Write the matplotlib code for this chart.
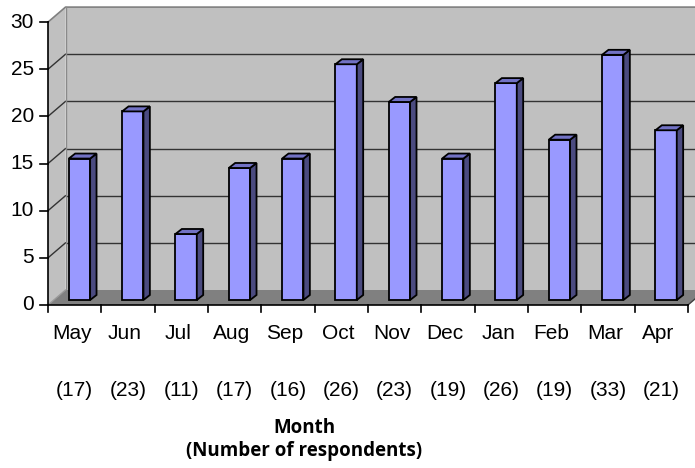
import matplotlib
matplotlib.use("Agg")
import matplotlib.pyplot as plt
from matplotlib.patches import Polygon

months = ["May", "Jun", "Jul", "Aug", "Sep", "Oct", "Nov", "Dec", "Jan", "Feb", "Mar", "Apr"]
respondents = [17, 23, 11, 17, 16, 26, 23, 19, 26, 19, 33, 21]
values = [15, 20, 7, 14, 15, 25, 21, 15, 23, 17, 26, 18]
yticks = [0, 5, 10, 15, 20, 25, 30]

W, H = 695, 468
fig = plt.figure(figsize=(W / 100, H / 100), dpi=100)
ax = fig.add_axes([0, 0, 1, 1])
ax.set_axis_off()

# pixel geometry of the pseudo-3D box
X0, CW = 48.0, 53.33      # front-left x, px per category
Y0, UNIT = 305.0, 9.43    # front-bottom y (from top), px per value unit
DX, DY = 17.5, 15.0       # full depth offset in px
ax.set_xlim(-X0 / CW, (W - X0) / CW)
ax.set_ylim((Y0 - H) / UNIT, Y0 / UNIT)
ddx, ddy = DX / CW, DY / UNIT
n = len(months)
ymax = yticks[-1]

wall = "#C0C0C0"
floor = "#808080"
grid = "#333333"

# back wall
ax.add_patch(Polygon([(ddx, ddy), (n + ddx, ddy), (n + ddx, ymax + ddy), (ddx, ymax + ddy)],
                     closed=True, facecolor=wall, edgecolor="none", zorder=1))
# side wall
ax.add_patch(Polygon([(0, 0), (ddx, ddy), (ddx, ymax + ddy), (0, ymax)],
                     closed=True, facecolor=wall, edgecolor="none", zorder=1))
# gridlines
for v in yticks[1:-1]:
    ax.plot([ddx, n + ddx], [v + ddy, v + ddy], color=grid, lw=1.0, zorder=2)
    ax.plot([0, ddx], [v, v + ddy], color=grid, lw=1.0, zorder=2)
# top border and back edge
ax.plot([0, ddx, n + ddx], [ymax, ymax + ddy, ymax + ddy], color="#808080", lw=1.2, zorder=2)
ax.plot([ddx, ddx], [ddy, ymax + ddy], color="#8a8a8a", lw=1.0, zorder=2)
# floor
ax.add_patch(Polygon([(0, 0), (n, 0), (n + ddx, ddy), (ddx, ddy)],
                     closed=True, facecolor=floor, edgecolor="none", zorder=3))
ax.plot([0, ddx], [0, ddy], color="#9a9a9a", lw=1.0, zorder=3)
ax.plot([n, n + ddx], [0, ddy], color="#404040", lw=1.0, zorder=3)

# bars
xl = [i + 0.39 for i in range(n)]
bw = 0.40
b0 = 5.0 / UNIT
sdx, sdy = 6.4 / CW, 5.0 / UNIT
ax.bar(xl, values, width=bw, bottom=b0, align="edge", color="#9999FF",
       edgecolor="black", linewidth=1.3, zorder=5)
for x, v in zip(xl, values):
    xr = x + bw
    top = b0 + v
    ax.add_patch(Polygon([(xr, b0), (xr + sdx, b0 + sdy), (xr + sdx, top + sdy), (xr, top)],
                         closed=True, facecolor="#4B4B80", edgecolor="black", lw=1.3, zorder=5))
    ax.add_patch(Polygon([(x, top), (x + sdx, top + sdy), (xr + sdx, top + sdy), (xr, top)],
                         closed=True, facecolor="#7272C4", edgecolor="black", lw=1.3, zorder=5))

# axes lines
ax.plot([0, 0], [0, ymax], color="black", lw=1.2, zorder=6)
ax.plot([0, n], [0, 0], color="black", lw=1.2, zorder=6)
tick_font = dict(family=["Liberation Sans", "DejaVu Sans"], fontsize=15)
for v in yticks:
    ax.plot([-8 / CW, 0], [v, v], color="black", lw=1.2, zorder=6)
    ax.text(-14 / CW, v, str(v), ha="right", va="center", **tick_font)
for i in range(n + 1):
    ax.plot([i, i], [0, -7 / UNIT], color="black", lw=1.2, zorder=6)

# category labels
for i, (m, r) in enumerate(zip(months, respondents)):
    ax.text(i + 0.5 - 3 / CW, (Y0 - 339) / UNIT, m, ha="center", va="baseline", **tick_font)
    ax.text(i + 0.5, (Y0 - 396) / UNIT, f"({r})", ha="center", va="baseline", **tick_font)

title_font = dict(family=["Open Sans", "DejaVu Sans"], fontsize=13.5, fontweight="bold")
tx = (304 - X0) / CW
ax.text(tx, (Y0 - 433) / UNIT, "Month", ha="center", va="baseline", **title_font)
ax.text(tx, (Y0 - 456) / UNIT, "(Number of respondents)", ha="center", va="baseline", **title_font)

fig.savefig("out.png", dpi=100, facecolor="white")
